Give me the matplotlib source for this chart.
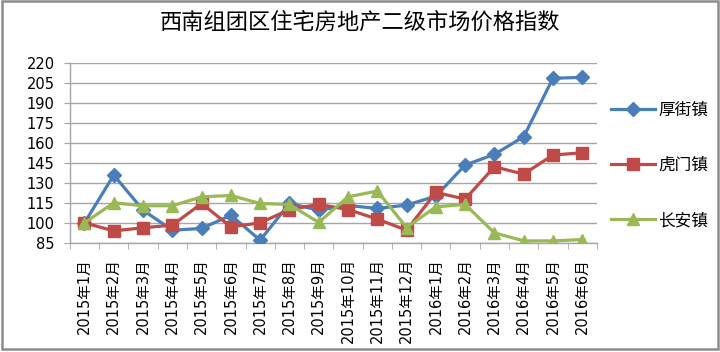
import matplotlib
matplotlib.use("Agg")
import matplotlib.pyplot as plt
from matplotlib.patches import Rectangle
import numpy as np

plt.rcParams['font.family'] = ['DejaVu Sans', 'Noto Sans CJK SC']

months = ['2015年1月', '2015年2月', '2015年3月', '2015年4月', '2015年5月', '2015年6月',
          '2015年7月', '2015年8月', '2015年9月', '2015年10月', '2015年11月', '2015年12月',
          '2016年1月', '2016年2月', '2016年3月', '2016年4月', '2016年5月', '2016年6月']
houjie = [100, 135.8, 109.5, 94.5, 95.8, 105.7, 87, 114.5, 109.5, 113, 110.8, 113.3,
          120, 143.3, 151.3, 164.5, 208.3, 209]
humen = [100, 94, 96.3, 98.3, 114.5, 97, 100, 110, 113.8, 110, 102.8, 94.5,
         122.8, 117.8, 142, 136.5, 150.8, 152.5]
changan = [100, 115, 112.8, 112.8, 119.5, 120.5, 114.5, 113.8, 100.3, 119.5, 123.8, 96.5,
           112, 113.8, 92.5, 86.5, 86.5, 87.5]
yticks = list(range(85, 221, 15))

fig = plt.figure(figsize=(7.2, 3.52), dpi=100)
ax = fig.add_axes([0.097, 0.31, 0.732, 0.512])

x = np.arange(len(months))
ax.plot(x, houjie, color='#4A7EBB', lw=2.3, marker='D', ms=7, label='厚街镇', zorder=3)
ax.plot(x, humen, color='#BE4B48', lw=2.3, marker='s', ms=8.5, label='虎门镇', zorder=3)
ax.plot(x, changan, color='#98B954', lw=2.3, marker='^', ms=9, label='长安镇', zorder=3)

ax.set_xlim(-0.5, len(months) - 0.5)
ax.set_ylim(85, 220)
ax.set_yticks(yticks)
ax.yaxis.grid(True, color='#A6A6A6', lw=1)
ax.set_axisbelow(True)
for s in ['top', 'right']:
    ax.spines[s].set_visible(False)
for s in ['left', 'bottom']:
    ax.spines[s].set_color('#A6A6A6')
    ax.spines[s].set_linewidth(1)

ax.set_xticks(x)
ax.set_xticklabels(months, rotation=90, fontsize=10.5)
ax.set_xticks(np.arange(-0.5, len(months), 1), minor=True)
ax.tick_params(axis='x', which='major', length=0, pad=11)
ax.tick_params(axis='x', which='minor', length=4, color='#A6A6A6')
ax.tick_params(axis='y', length=4, color='#A6A6A6', labelsize=10.5, pad=7)

fig.text(0.5, 0.937, '西南组团区住宅房地产二级市场价格指数', ha='center', va='center',
         fontsize=16, family=['Noto Sans CJK SC'])

fig.legend(loc='center left', bbox_to_anchor=(0.849, 0.53), frameon=False,
           prop={'family': 'Noto Sans CJK SC', 'size': 12}, labelspacing=2.3,
           handlelength=2.6, handletextpad=0.2, borderpad=0, borderaxespad=0)

fig.patches.append(Rectangle((0.003, 0.008), 0.994, 0.988, transform=fig.transFigure,
                             fill=False, edgecolor='#8C8C8C', lw=1.8))

fig.savefig('out.png', dpi=100)
